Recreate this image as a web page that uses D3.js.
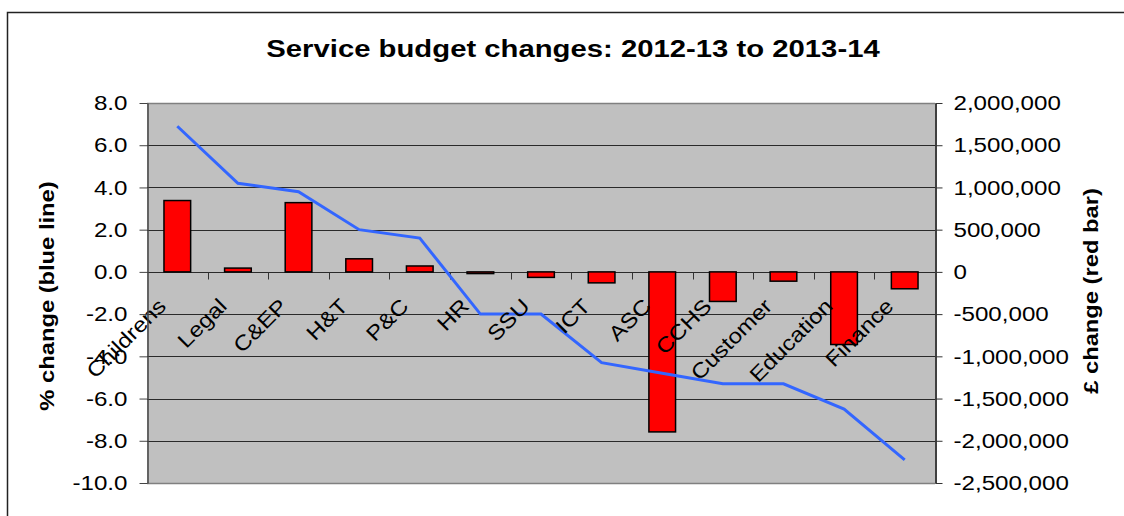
<!DOCTYPE html>
<html>
<head>
<meta charset="utf-8">
<script src="https://cdn.jsdelivr.net/npm/d3@7"></script>
<style>
  body { margin: 0; background: #fff; }
  text { font-family: "Liberation Sans", Arial, sans-serif; }
</style>
</head>
<body>
<div id="chart"></div>
<script>
// chart data
var categories = ["Childrens", "Legal", "C&EP", "H&T", "P&C", "HR", "SSU", "ICT", "ASC", "CCHS", "Customer", "Education", "Finance"];
var pctChange = [6.9, 4.2, 3.8, 2.0, 1.6, -2.0, -2.0, -4.3, -4.8, -5.3, -5.3, -6.5, -8.9];
var poundChange = [845000, 45000, 820000, 155000, 70000, -20000, -65000, -130000, -1895000, -350000, -110000, -860000, -200000];
var leftTicks = [-10, -8, -6, -4, -2, 0, 2, 4, 6, 8];
var rightTicks = [-2500000, -2000000, -1500000, -1000000, -500000, 0, 500000, 1000000, 1500000, 2000000];

var svgWidth = 1124;
var svgHeight = 516;

var plot = { left: 147, right: 935, top: 103, bottom: 483 };
// the original text is drawn a bit wider than Liberation Sans, stretch along the text
var stretch = 1.15;

var locale = d3.formatLocale({ decimal: ".", thousands: ",", grouping: [3], currency: ["£", ""], minus: "-" });

var svg = d3.select("#chart").append("svg")
  .attr("width", svgWidth)
  .attr("height", svgHeight);

// outer frame (runs off the bottom / right of the picture)
svg.append("rect")
  .attr("x", 7.5).attr("y", 12.5)
  .attr("width", 1200).attr("height", 600)
  .attr("fill", "none").attr("stroke", "#222").attr("stroke-width", 1.5);

// scales
var xScale = d3.scaleBand().domain(categories).range([plot.left, plot.right]);
var yLeft = d3.scaleLinear().domain([-10, 8]).range([plot.bottom, plot.top]);
var yRight = d3.scaleLinear().domain([-2500000, 2000000]).range([plot.bottom, plot.top]);

// plot background
svg.append("rect")
  .attr("x", plot.left).attr("y", plot.top)
  .attr("width", plot.right - plot.left).attr("height", plot.bottom - plot.top)
  .attr("fill", "#c0c0c0");

// gridlines
svg.append("g").selectAll("line")
  .data(leftTicks.filter(function (d) { return d > -10 && d < 8; }))
  .enter().append("line")
  .attr("x1", plot.left).attr("x2", plot.right)
  .attr("y1", function (d) { return Math.round(yLeft(d)) + 0.5; })
  .attr("y2", function (d) { return Math.round(yLeft(d)) + 0.5; })
  .attr("stroke", "#2a2a2a").attr("stroke-width", 1);

// plot border top / bottom
[plot.top, plot.bottom].forEach(function (y) {
  svg.append("line")
    .attr("x1", plot.left).attr("x2", plot.right)
    .attr("y1", y + 0.5).attr("y2", y + 0.5)
    .attr("stroke", "#808080").attr("stroke-width", 1.5);
});

// category tick marks on the zero line
var zeroY = Math.round(yLeft(0)) + 0.5;
svg.append("g").selectAll("line")
  .data(categories.slice(1))
  .enter().append("line")
  .attr("x1", function (d) { return Math.round(xScale(d)) + 0.5; })
  .attr("x2", function (d) { return Math.round(xScale(d)) + 0.5; })
  .attr("y1", zeroY).attr("y2", zeroY + 7)
  .attr("stroke", "#333").attr("stroke-width", 1);

// bars (right axis)
var barW = xScale.bandwidth() * 0.44;
svg.append("g").selectAll("rect")
  .data(poundChange)
  .enter().append("rect")
  .attr("x", function (d, i) { return xScale(categories[i]) + (xScale.bandwidth() - barW) / 2; })
  .attr("y", function (d) { return yRight(Math.max(0, d)); })
  .attr("width", barW)
  .attr("height", function (d) { return Math.max(1, Math.abs(yRight(d) - yRight(0))); })
  .attr("fill", "#ff0000")
  .attr("stroke", "#000").attr("stroke-width", 1.5);

// line (left axis)
var line = d3.line()
  .x(function (d, i) { return xScale(categories[i]) + xScale.bandwidth() / 2; })
  .y(function (d) { return yLeft(d); });

svg.append("path")
  .datum(pctChange)
  .attr("d", line)
  .attr("fill", "none")
  .attr("stroke", "#3366ff")
  .attr("stroke-width", 3);

// category labels
svg.append("g").selectAll("text")
  .data(categories)
  .enter().append("text")
  .attr("transform", function (d) {
    var cx = xScale(d) + xScale.bandwidth() / 2;
    return "translate(" + (cx - 10) + "," + (zeroY + 35) + ") rotate(-45) scale(" + stretch + ",1)";
  })
  .attr("text-anchor", "end")
  .attr("font-size", 21)
  .attr("fill", "#000")
  .text(function (d) { return d; });

// left axis
var leftAxis = d3.axisLeft(yLeft)
  .tickValues(leftTicks)
  .tickFormat(locale.format(".1f"))
  .tickSize(8).tickSizeOuter(0).tickPadding(12);

var gL = svg.append("g")
  .attr("transform", "translate(" + (plot.left + 0.5) + ",0)")
  .call(leftAxis);
gL.select(".domain").attr("stroke", "#444").attr("stroke-width", 1.5);
gL.selectAll(".tick line").attr("stroke", "#444");
gL.selectAll("text")
  .attr("x", 0).attr("transform", "translate(-20,0) scale(" + stretch + ",1)")
  .attr("font-size", 21).attr("fill", "#000")
  .attr("font-family", "Liberation Sans, Arial, sans-serif");

// right axis
var rightAxis = d3.axisRight(yRight)
  .tickValues(rightTicks)
  .tickFormat(locale.format(",d"))
  .tickSize(7).tickSizeOuter(0).tickPadding(11);

var gR = svg.append("g")
  .attr("transform", "translate(" + (plot.right + 0.5) + ",0)")
  .call(rightAxis);
gR.select(".domain").attr("stroke", "#000").attr("stroke-width", 1.5);
gR.selectAll(".tick line").attr("stroke", "#333");
gR.selectAll("text")
  .attr("x", 0).attr("transform", "translate(18,0) scale(" + stretch + ",1)")
  .attr("font-size", 21).attr("fill", "#000")
  .attr("font-family", "Liberation Sans, Arial, sans-serif");

// title
svg.append("text")
  .attr("transform", "translate(573,57) scale(1.22,1)")
  .attr("text-anchor", "middle")
  .attr("font-size", 24).attr("font-weight", "bold")
  .text("Service budget changes: 2012-13 to 2013-14");

// axis titles
svg.append("text")
  .attr("transform", "translate(54,296) rotate(-90) scale(1.13,1)")
  .attr("text-anchor", "middle")
  .attr("font-size", 21).attr("font-weight", "bold")
  .text("% change (blue line)");

svg.append("text")
  .attr("transform", "translate(1098,291) rotate(-90) scale(1.13,1)")
  .attr("text-anchor", "middle")
  .attr("font-size", 21).attr("font-weight", "bold")
  .text("£ change (red bar)");
</script>
</body>
</html>
